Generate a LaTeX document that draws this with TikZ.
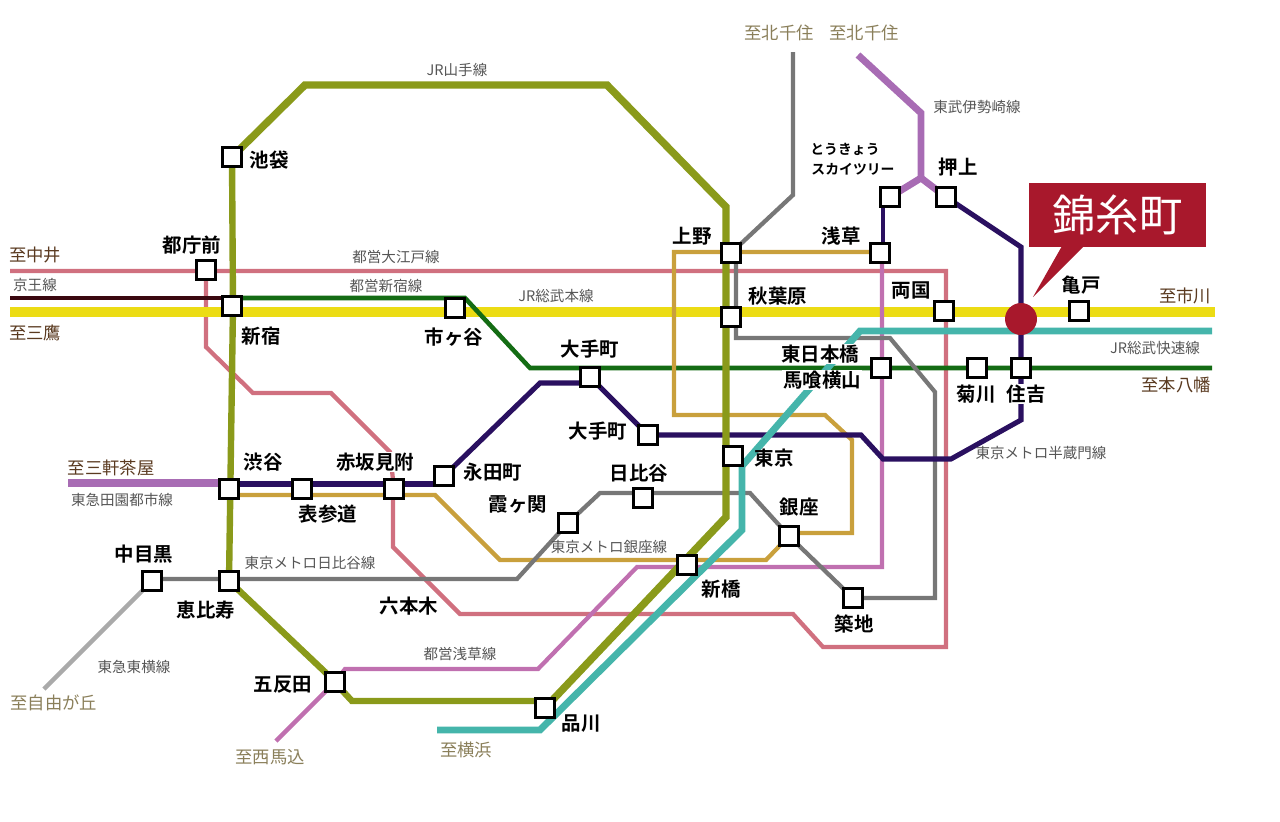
\documentclass[tikz,border=0pt]{standalone}
\usepackage{fontspec}
\usetikzlibrary{calc}
\newfontfamily\cjk{Noto Sans CJK JP}[BoldFont={Noto Sans CJK JP Bold}]
\pgfdeclarelayer{bg}
\pgfsetlayers{bg,main}
\definecolor{olive}{HTML}{8A9A1A}
\definecolor{oedo}{HTML}{D0707F}
\definecolor{keio}{HTML}{3A0810}
\definecolor{shinjuku}{HTML}{146C14}
\definecolor{sobu}{HTML}{ECDC14}
\definecolor{teal2}{HTML}{45B5AB}
\definecolor{orange2}{HTML}{C9A03C}
\definecolor{hanzo}{HTML}{2A1060}
\definecolor{tobu}{HTML}{A86CB4}
\definecolor{asakusa}{HTML}{C070B0}
\definecolor{gray2}{HTML}{777777}
\definecolor{gray3}{HTML}{AAAAAA}
\definecolor{redbox}{HTML}{A8182C}
\definecolor{tan2}{HTML}{8A7F5A}
\definecolor{brown2}{HTML}{5A3A20}
\definecolor{label2}{HTML}{555555}
\tikzset{
  x=0.75pt,y=-0.75pt,
  stbox/.style={draw=black,fill=white,line width=2.3pt,minimum size=14.2pt,inner sep=0pt,shape=rectangle},
  stname/.style={font=\cjk\bfseries\fontsize{14.6}{15}\selectfont,text=black,inner sep=0pt},
  stblank/.style={stname,fill=white,inner sep=0.5pt},
  linename/.style={font=\cjk\fontsize{10.9}{12}\selectfont,text=label2,inner sep=0pt},
  dest/.style={font=\cjk\fontsize{13}{14}\selectfont,text=tan2,inner sep=0pt},
  destdark/.style={font=\cjk\fontsize{13}{14}\selectfont,text=brown2,inner sep=0pt},
  sky/.style={font=\cjk\bfseries\fontsize{10.4}{12}\selectfont,text=black,inner sep=0pt},
  railbase/.style={line join=miter,line cap=butt},
}
\begin{document}
\begin{tikzpicture}
\useasboundingbox (0,0) rectangle (1280,821);
% stations
\node[stbox] (ike) at (232,157) {};
\node[stbox] (tocho) at (206,270) {};
\node[stbox] (shin) at (232,306) {};
\node[stbox] (ichi) at (455,308) {};
\node[stbox] (ote) at (590,377) {};
\node[stbox] (otetwo) at (648,435) {};
\node[stbox] (naga) at (444,476) {};
\node[stbox] (aka) at (394,489) {};
\node[stbox] (omo) at (302,489) {};
\node[stbox] (shib) at (229,489) {};
\node[stbox] (ebi) at (229,581) {};
\node[stbox] (naka) at (152,581) {};
\node[stbox] (goh) at (335,682) {};
\node[stbox] (shina) at (545,708) {};
\node[stbox] (shim) at (687,565) {};
\node[stbox] (gin) at (789,536) {};
\node[stbox] (tsu) at (853,598) {};
\node[stbox] (kasu) at (568,523) {};
\node[stbox] (hibi) at (643,498) {};
\node[stbox] (tok) at (733,456) {};
\node[stbox] (ueno) at (731,253) {};
\node[stbox] (aki) at (731,317) {};
\node[stbox] (asa) at (880,253) {};
\node[stbox] (higa) at (881,368) {};
\node[stbox] (oshi) at (946,197) {};
\node[stbox] (skyt) at (890,197) {};
\node[stbox] (ryo) at (944,311) {};
\node[stbox] (kiku) at (977,368) {};
\node[stbox] (sumi) at (1021,368) {};
\node[stbox] (kame) at (1079,311) {};
\node[circle,fill=redbox,minimum size=24pt,inner sep=0pt] (kin) at (1021,319) {};
% callout
\coordinate (calltip) at (1033,297);
\node[fill=redbox,minimum width=132.7pt,minimum height=48pt,inner sep=0pt,text=white,font=\cjk\fontsize{32.5}{34}\selectfont] (callbox) at (1117.5,215) {錦糸町};
% rails
\begin{pgfonlayer}{bg}
\fill[redbox] (1062,246) -- (calltip) -- (1084,246) -- cycle;
% Oedo
\draw[oedo,line width=3.2pt,railbase] (10,271) -- (946,271) -- (946,647) -- (823,647) -- (793,614) -- (460,614) -- (393,547) -- (393,489);
\draw[oedo,line width=3.2pt,railbase] (aka.center) -- (390,452) -- (331,393) -- (253,393) -- (206,347) -- (tocho.center);
% Sobu main
\draw[sobu,line width=8pt,railbase] (10,312) -- (1215,312);
% Keio
\draw[keio,line width=3.6pt,railbase] (10,298) -- ($(shin.center)+(0,-8)$);
% Shinjuku
\draw[shinjuku,line width=3.4pt,railbase] ($(shin.center)+(0,-8)$) -- (465,298) -- (530,368) -- (1212,368);
% Orange
\draw[orange2,line width=3.2pt,railbase] ($(shib.center)+(0,6)$) -- (435,495) -- (500,560) -- (766,560) -- (gin.center) -- ($(gin.center)+(0,-3)$) -- (852,533) -- (852,440) -- (825,415) -- (674,415) -- (674,252) -- ($(asa.center)+(0,-1)$);
% Asakusa
\draw[asakusa,line width=3.2pt,railbase] (276,741) -- (goh.center) -- (345,669) -- (538,669) -- (637,567) -- (882,567) -- ($(asa.center)+(2,0)$);
% Hibiya, Ginza gray
\draw[gray2,line width=3.2pt,railbase] (ueno.center) -- (793,195) -- (793,52);
\draw[gray2,line width=3.2pt,railbase] ($(ueno.center)+(5,0)$) -- (736,338) -- (890,338) -- (935,392) -- (935,598) -- (tsu.center) -- (gin.center) -- (750,493) -- (600,493) -- (kasu.center) -- (517,579) -- ($(naka.center)+(0,-2)$);
\draw[gray3,line width=3.4pt,railbase] (naka.center) -- (44,689);
% Hanzomon
\draw[tobu,line width=5.4pt,railbase] (68,483) -- ($(shib.center)+(0,-6)$);
\draw[hanzo,line width=3.8pt,railbase] ($(shib.center)+(0,-5)$) -- ($(naga.center)+(0,8)$);
\draw[hanzo,line width=3.8pt,railbase] (naga.center) -- (540,383) -- ($(ote.center)+(0,6)$);
\draw[hanzo,line width=3.8pt,railbase] (ote.center) -- (otetwo.center) -- (861,435) -- (883,459) -- (951,459) -- (1021,420) -- (kin.center);
\draw[hanzo,line width=3.8pt,railbase] (kin.center) -- (1021,247) -- (oshi.center);
\draw[hanzo,line width=3.4pt,railbase] ($(asa.center)+(3,0)$) -- (883,197);
% Tobu
\draw[tobu,line width=5.2pt,railbase] (858,55) -- (921,113) -- (921,178) -- (skyt.center);
\draw[tobu,line width=5.2pt,railbase] (921,178) -- (oshi.center);
% Yamanote
\draw[olive,line width=5.6pt,railbase] (ike.center) -- (305,85) -- (607,85) -- (726,207) -- (726,517) -- (shina.center);
\draw[olive,line width=4.8pt,railbase] (ike.center) -- (233,306) -- (229,581) -- (325,672) -- (352,701) -- (545,701);
% Teal
\draw[teal2,line width=5.2pt,railbase] (1212,331) -- (860,331) -- (742,466) -- (742,530) -- (540,730) -- (437,730);
\end{pgfonlayer}
% station names
\node[stname] (lIke) at (269,160) {池袋};
\node[stname] (lTocho) at (192,245) {都庁前};
\node[stname] (lShin) at (261,336) {新宿};
\node[stname] (lIchi) at (454,337) {市ヶ谷};
\node[stname] (lOte) at (590,349) {大手町};
\node[stname] (lOtetwo) at (598,431) {大手町};
\node[stname] (lNaga) at (493,472) {永田町};
\node[stblank] (lAka) at (375,462) {赤坂見附};
\node[stname] (lOmo) at (328,514) {表参道};
\node[stname] (lShib) at (263,462) {渋谷};
\node[stname] (lEbi) at (206,610) {恵比寿};
\node[stname] (lNaka) at (144,554) {中目黒};
\node[stname] (lRop) at (409,606) {六本木};
\node[stname] (lGoh) at (283,685) {五反田};
\node[stname] (lShina) at (581,724) {品川};
\node[stname] (lShim) at (721,589) {新橋};
\node[stname] (lGin) at (799,507) {銀座};
\node[stname] (lTsu) at (854,624) {築地};
\node[stname] (lKasu) at (518,505) {霞ヶ関};
\node[stname] (lHibi) at (639,473) {日比谷};
\node[stname] (lTok) at (774,458) {東京};
\node[stname] (lUeno) at (692,236) {上野};
\node[stname] (lAki) at (778,296) {秋葉原};
\node[stname] (lAsa) at (841,236) {浅草};
\node[stblank] (lHiga) at (820,354) {東日本橋};
\node[stblank] (lBak) at (822,380) {馬喰横山};
\node[stname] (lOshi) at (958,167) {押上};
\node[stname] (lRyo) at (911,291) {両国};
\node[stname] (lKiku) at (976,394) {菊川};
\node[stblank] (lSumi) at (1026,394) {住吉};
\node[stname] (lKame) at (1081,285) {亀戸};
\node[sky] (lSkya) at (845,149) {とうきょう};
\node[sky] (lSkyb) at (853,169) {スカイツリー};
% line names
\node[linename] (nYama) at (457,70) {JR山手線};
\node[linename] (nTobu) at (977,107) {東武伊勢崎線};
\node[linename] (nOedo) at (396,257) {都営大江戸線};
\node[linename] (nShinj) at (386,286) {都営新宿線};
\node[linename] (nKeio) at (35,285) {京王線};
\node[linename] (nSobu) at (556,296) {JR総武本線};
\node[linename] (nRapid) at (1155,348) {JR総武快速線};
\node[linename] (nHanzo) at (1041,453) {東京メトロ半蔵門線};
\node[linename] (nDen) at (122,500) {東急田園都市線};
\node[linename] (nGinza) at (609,547) {東京メトロ銀座線};
\node[linename] (nHibi) at (310,563) {東京メトロ日比谷線};
\node[linename] (nAsa) at (460,654) {都営浅草線};
\node[linename] (nToyo) at (134,667) {東急東横線};
% destinations
\node[dest] (dKita) at (779,33) {至北千住};
\node[dest] (dKitb) at (864,33) {至北千住};
\node[destdark] (dNakai) at (35,255) {至中井};
\node[destdark] (dMita) at (35,333) {至三鷹};
\node[destdark] (dIchi) at (1185,296) {至市川};
\node[destdark] (dMoto) at (1176,385) {至本八幡};
\node[destdark] (dSan) at (111,468) {至三軒茶屋};
\node[dest] (dJiyu) at (54,703) {至自由が丘};
\node[dest] (dNishi) at (270,757) {至西馬込};
\node[dest] (dYoko) at (466,750) {至横浜};
\end{tikzpicture}
\end{document}
